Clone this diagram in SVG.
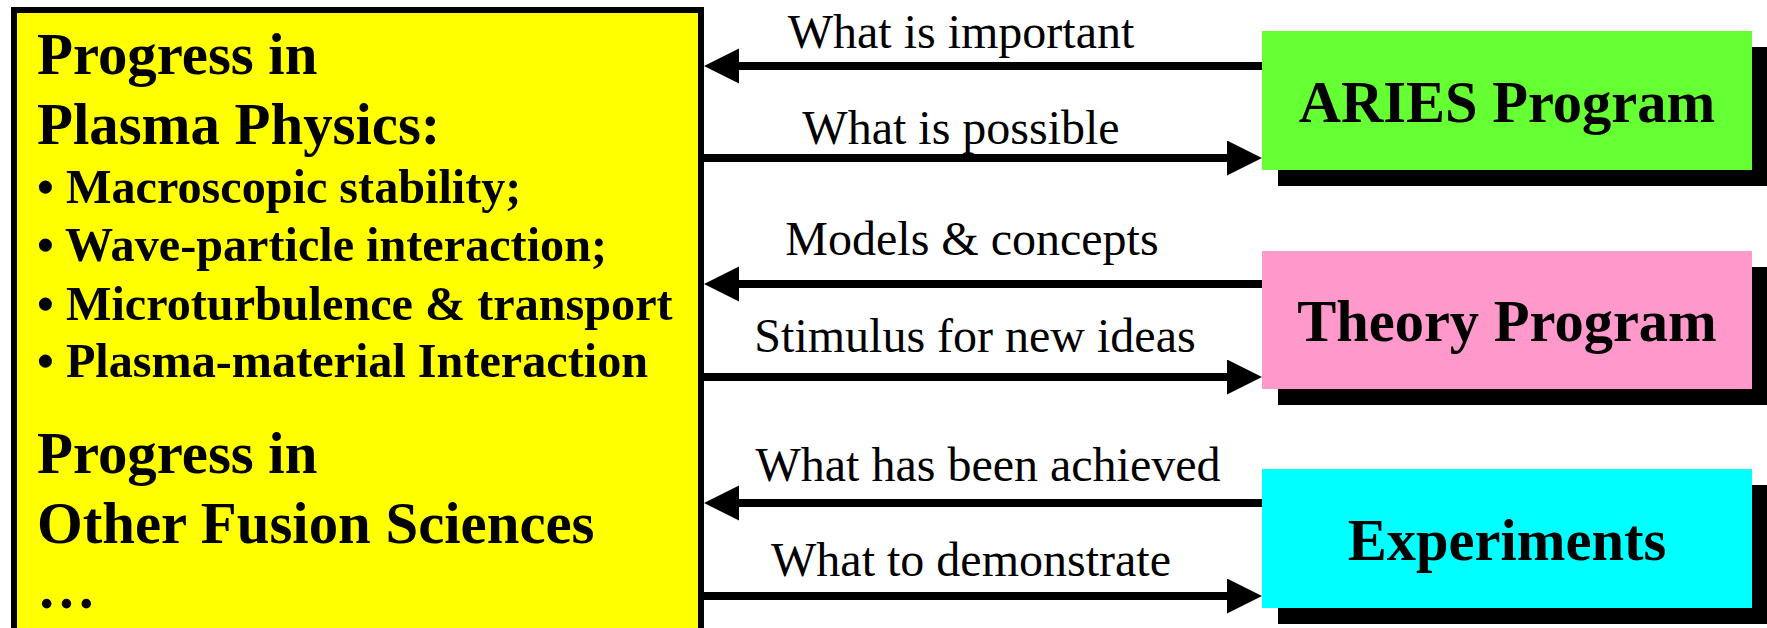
<svg xmlns="http://www.w3.org/2000/svg" width="1767" height="628" viewBox="0 0 1767 628">
  <style>
    .title { font-family: "Liberation Serif", "Times New Roman", serif; font-weight: bold; font-size: 58.8px; fill: #000; }
    .bullet { font-family: "Liberation Serif", "Times New Roman", serif; font-weight: bold; font-size: 48.2px; fill: #000; }
    .label { font-family: "Liberation Serif", "Times New Roman", serif; font-size: 48px; fill: #000; text-anchor: middle; }
    .boxname { font-family: "Liberation Serif", "Times New Roman", serif; font-weight: bold; font-size: 58.5px; fill: #000; text-anchor: middle; }
    .shadow { fill: #000; }
    .conn { stroke: #000; stroke-width: 8; fill: none; marker-end: url(#head); }
  </style>
  <defs>
    <marker id="head" markerUnits="userSpaceOnUse" markerWidth="36" markerHeight="36" refX="0" refY="17.5" orient="auto">
      <path d="M0,0 L35,17.5 L0,35 z" fill="#000"/>
    </marker>
  </defs>

  <rect width="1767" height="628" fill="#fff"/>

  <!-- Central yellow panel -->
  <g id="progress">
    <rect x="14" y="10" width="687" height="640" fill="#ffff00" stroke="#000" stroke-width="6"/>
    <text class="title" x="37" y="74">Progress in</text>
    <text class="title" x="37" y="144">Plasma Physics:</text>
    <text class="bullet" x="37" y="203">• Macroscopic stability;</text>
    <text class="bullet" x="37" y="261">• Wave-particle interaction;</text>
    <text class="bullet" x="37" y="320">• Microturbulence &amp; transport</text>
    <text class="bullet" x="37" y="377">• Plasma-material Interaction</text>
    <text class="title" x="37" y="473">Progress in</text>
    <text class="title" x="37" y="543">Other Fusion Sciences</text>
    <text class="title" x="37" y="608">…</text>
  </g>

  <!-- Program boxes with drop shadows -->
  <g id="aries">
    <rect class="shadow" x="1278" y="47" width="490" height="139"/>
    <rect x="1262" y="31" width="490" height="139" fill="#66ff33"/>
    <text class="boxname" x="1507" y="122">ARIES Program</text>
  </g>
  <g id="theory">
    <rect class="shadow" x="1278" y="267" width="490" height="138"/>
    <rect x="1262" y="251" width="490" height="138" fill="#ff99cc"/>
    <text class="boxname" x="1507" y="341">Theory Program</text>
  </g>
  <g id="experiments">
    <rect class="shadow" x="1278" y="485" width="490" height="139"/>
    <rect x="1262" y="469" width="490" height="139" fill="#00ffff"/>
    <text class="boxname" x="1507" y="560">Experiments</text>
  </g>

  <!-- Connectors -->
  <g id="connectors">
    <line class="conn" x1="1262" y1="66" x2="739" y2="66"/>
    <line class="conn" x1="704" y1="158" x2="1227" y2="158"/>
    <line class="conn" x1="1262" y1="284" x2="739" y2="284"/>
    <line class="conn" x1="704" y1="377" x2="1227" y2="377"/>
    <line class="conn" x1="1262" y1="503" x2="739" y2="503"/>
    <line class="conn" x1="704" y1="596" x2="1227" y2="596"/>
    <text class="label" x="961" y="48">What is important</text>
    <text class="label" x="961" y="144">What is possible</text>
    <text class="label" x="972" y="255">Models &amp; concepts</text>
    <text class="label" x="975" y="352">Stimulus for new ideas</text>
    <text class="label" x="988" y="481">What has been achieved</text>
    <text class="label" x="971" y="576">What to demonstrate</text>
  </g>
</svg>
